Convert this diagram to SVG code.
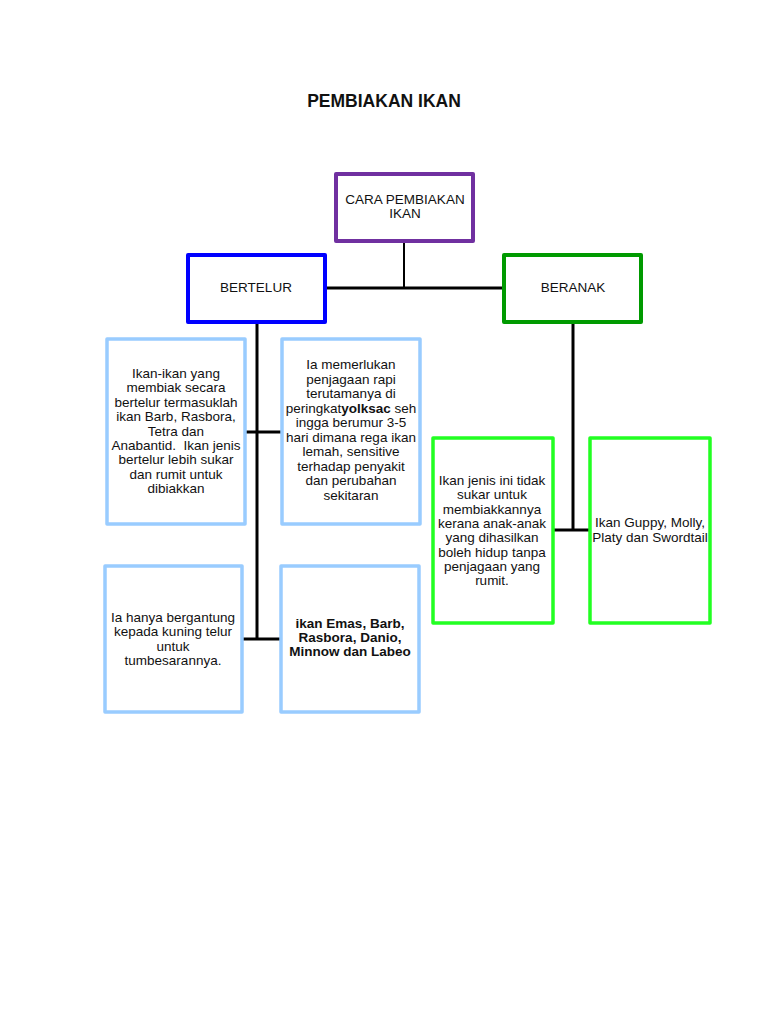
<svg xmlns="http://www.w3.org/2000/svg" width="768" height="1024" viewBox="0 0 768 1024">
<style>
text{font-family:"Liberation Sans",Arial,sans-serif;fill:#111;text-anchor:middle;font-size:13.5px}
.t{font-size:17.5px;font-weight:bold}
.b{font-weight:bold}
.node{fill:#fff;stroke-linejoin:round}
.purple{stroke:#7030A0;stroke-width:4}
.blue{stroke:#0000FF;stroke-width:4}
.dgreen{stroke:#009A00;stroke-width:4}
.lblue{stroke:#99CCFF;stroke-width:3.5}
.lgreen{stroke:#22FF22;stroke-width:3.5}
.conn line{stroke:#000;stroke-width:3}
</style>
<rect width="768" height="1024" fill="#fff"/>
<text class="t" x="384" y="107">PEMBIAKAN IKAN</text>
<g class="conn">
<line x1="404" y1="242" x2="404" y2="289" style="stroke-width:2"/>
<line x1="326" y1="288" x2="503" y2="288"/>
<line x1="257" y1="323" x2="257" y2="640"/>
<line x1="246" y1="432" x2="281" y2="432"/>
<line x1="243" y1="639" x2="280" y2="639"/>
<line x1="573" y1="323" x2="573" y2="531"/>
<line x1="553" y1="530" x2="589" y2="530"/>
</g>
<g id="cara">
<rect class="node purple" x="336" y="174" width="137" height="67"/>
<text x="405" y="204">CARA PEMBIAKAN</text>
<text x="405" y="218">IKAN</text>
</g>
<g id="bertelur">
<rect class="node blue" x="188" y="255" width="137" height="67"/>
<text x="256" y="292">BERTELUR</text>
</g>
<g id="beranak">
<rect class="node dgreen" x="504" y="255" width="137" height="67"/>
<text x="573" y="292">BERANAK</text>
</g>
<g id="b1">
<rect class="node lblue" x="107" y="339" width="138" height="185"/>
<text x="176" y="378">Ikan-ikan yang</text>
<text x="176" y="392.4">membiak secara</text>
<text x="176" y="406.8">bertelur termasuklah</text>
<text x="176" y="421.2">ikan Barb, Rasbora,</text>
<text x="176" y="435.6">Tetra dan</text>
<text x="176" y="450" xml:space="preserve">Anabantid.  Ikan jenis</text>
<text x="176" y="464.4">bertelur lebih sukar</text>
<text x="176" y="478.8">dan rumit untuk</text>
<text x="176" y="493.2">dibiakkan</text>
</g>
<g id="b2">
<rect class="node lblue" x="282" y="339" width="138" height="185"/>
<text x="351" y="369">Ia memerlukan</text>
<text x="351" y="383.5">penjagaan rapi</text>
<text x="351" y="398">terutamanya di</text>
<text x="351" y="412.5">peringkat<tspan class="b">yolksac</tspan> seh</text>
<text x="351" y="427">ingga berumur 3-5</text>
<text x="351" y="441.5">hari dimana rega ikan</text>
<text x="351" y="456">lemah, sensitive</text>
<text x="351" y="470.5">terhadap penyakit</text>
<text x="351" y="485">dan perubahan</text>
<text x="351" y="499.5">sekitaran</text>
</g>
<g id="b3">
<rect class="node lblue" x="105" y="566" width="137" height="146"/>
<text x="173" y="622">Ia hanya bergantung</text>
<text x="173" y="636.3">kepada kuning telur</text>
<text x="173" y="650.6">untuk</text>
<text x="173" y="665">tumbesarannya.</text>
</g>
<g id="b4">
<rect class="node lblue" x="281" y="566" width="138" height="146"/>
<text class="b" x="350" y="628">ikan Emas, Barb,</text>
<text class="b" x="350" y="642">Rasbora, Danio,</text>
<text class="b" x="350" y="656">Minnow dan Labeo</text>
</g>
<g id="g1">
<rect class="node lgreen" x="433" y="438" width="120" height="185"/>
<text x="492" y="485">Ikan jenis ini tidak</text>
<text x="492" y="499.3">sukar untuk</text>
<text x="492" y="513.6">membiakkannya</text>
<text x="492" y="527.9">kerana anak-anak</text>
<text x="492" y="542.2">yang dihasilkan</text>
<text x="492" y="556.5">boleh hidup tanpa</text>
<text x="492" y="570.8">penjagaan yang</text>
<text x="492" y="585">rumit.</text>
</g>
<g id="g2">
<rect class="node lgreen" x="590" y="438" width="120" height="185"/>
<text x="650" y="527">Ikan Guppy, Molly,</text>
<text x="650" y="542">Platy dan Swordtail</text>
</g>
</svg>
